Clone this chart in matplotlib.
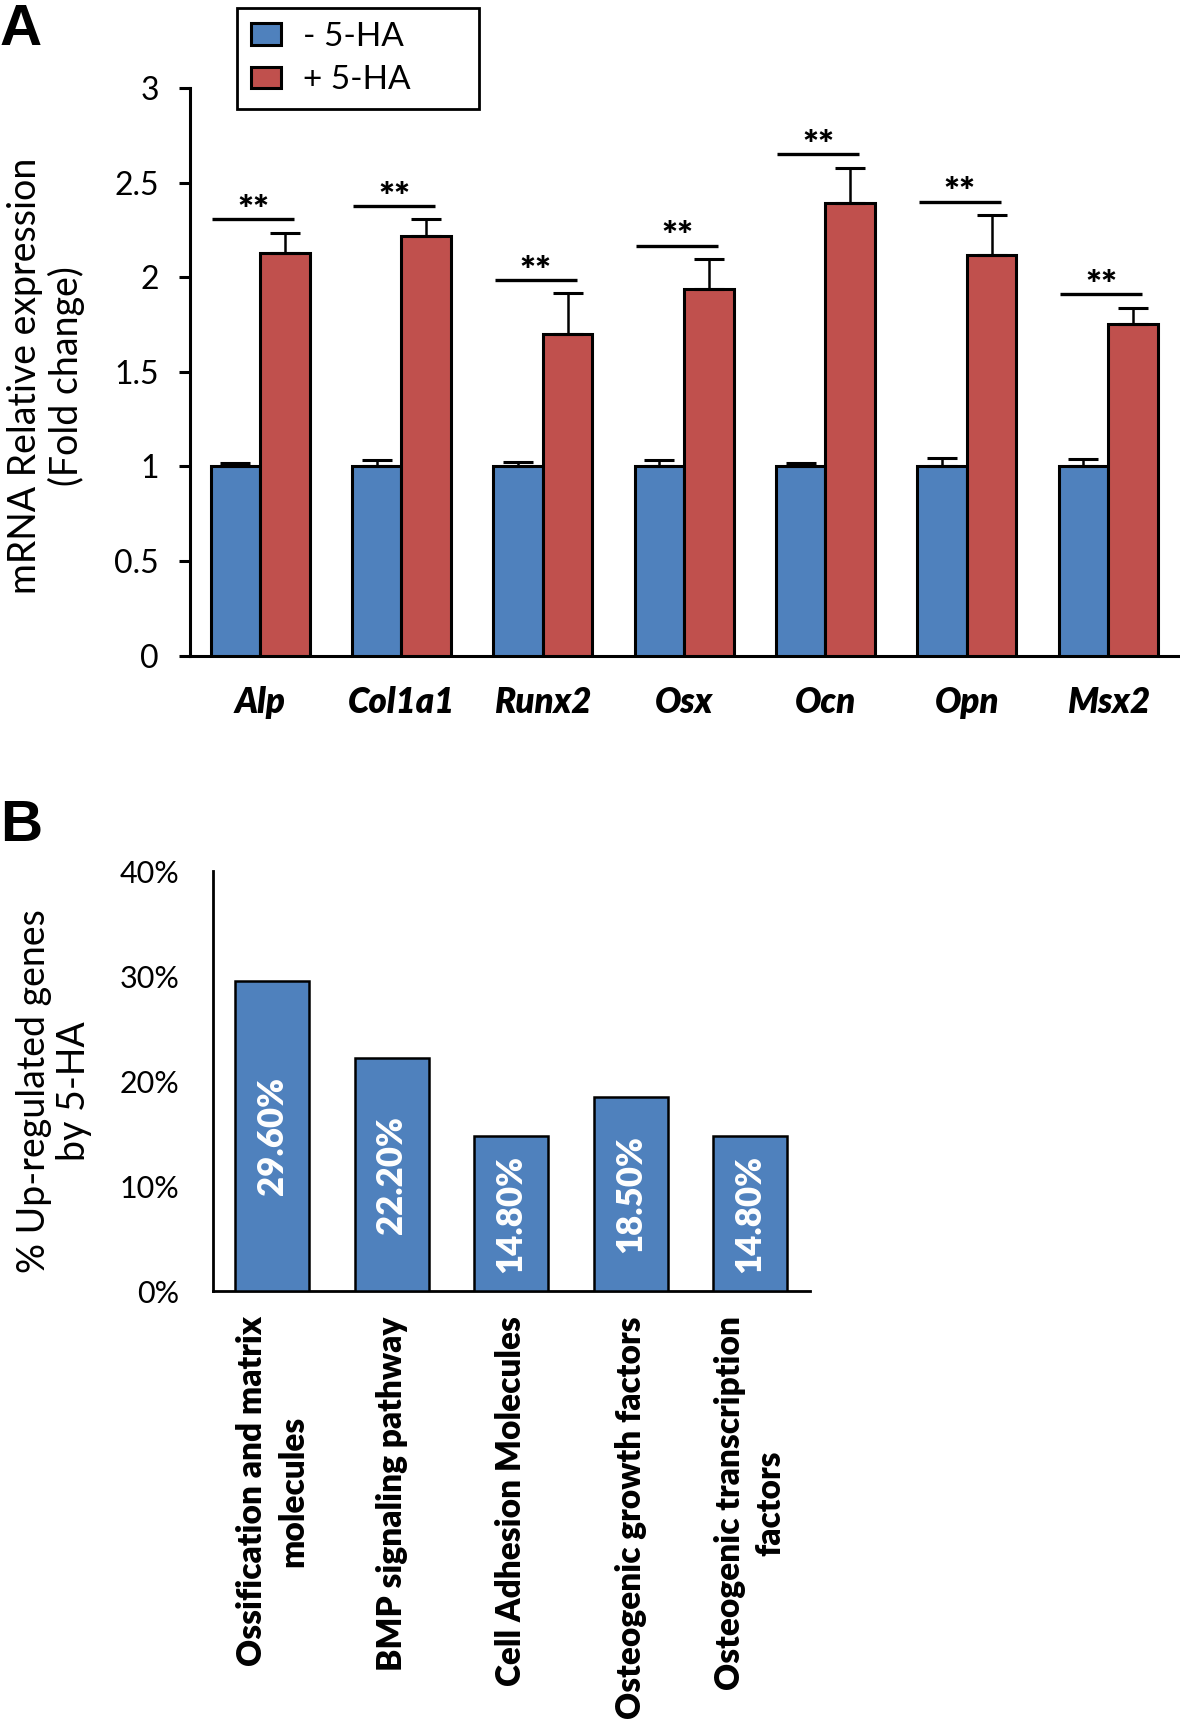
import numpy as np
import matplotlib
matplotlib.use('Agg')
import matplotlib.pyplot as plt

plt.rcParams['font.family'] = ['Lato', 'DejaVu Sans']

# Panel A: qPCR fold change
genes = ['Alp', 'Col1a1', 'Runx2', 'Osx', 'Ocn', 'Opn', 'Msx2']
ctrl_mean = [1.0, 1.0, 1.0, 1.0, 1.0, 1.0, 1.0]
ctrl_err = [0.02, 0.034, 0.025, 0.032, 0.018, 0.042, 0.039]
ha_mean = [2.126, 2.219, 1.70, 1.94, 2.394, 2.12, 1.753]
ha_err = [0.11, 0.087, 0.215, 0.157, 0.186, 0.21, 0.087]
sig = ['**', '**', '**', '**', '**', '**', '**']

# Panel B: share of up-regulated genes
categories = ['Ossification and matrix\nmolecules', 'BMP signaling pathway',
              'Cell Adhesion Molecules', 'Osteogenic growth factors',
              'Osteogenic transcription\nfactors']
pct = [29.6, 22.2, 14.8, 18.5, 14.8]

BLUE = '#4F81BD'
RED = '#C0504D'
W, H = 1180, 1727

fig = plt.figure(figsize=(W / 100, H / 100), dpi=100)

# ---- panel A ----
axA = fig.add_axes([189.5 / W, 1 - 655.6 / H, 0.999 - 189.5 / W, (655.6 - 88.1) / H])
x = np.arange(len(genes))
bw = 0.35
ek = dict(ecolor='black', elinewidth=1.8, capsize=11, capthick=2.2)
axA.bar(x - bw / 2, ctrl_mean, bw, color=BLUE, edgecolor='black', linewidth=2.2,
        yerr=[np.zeros(len(genes)), ctrl_err], error_kw=ek, label='- 5-HA', zorder=3)
axA.bar(x + bw / 2, ha_mean, bw, color=RED, edgecolor='black', linewidth=2.2,
        yerr=[np.zeros(len(genes)), ha_err], error_kw=ek, label='+ 5-HA', zorder=3)

for i, s in enumerate(sig):
    h = ha_mean[i] + ha_err[i] + 0.07
    axA.plot([x[i] - 0.34, x[i] + 0.24], [h, h], color='black', lw=2.4, solid_capstyle='butt')
    axA.text(x[i] - 0.05, h + 0.045, s, ha='center', va='center', fontsize=27, fontweight='heavy')

axA.set_xlim(-0.5, len(genes) - 0.5)
axA.set_ylim(0, 3)
axA.set_yticks([0, 0.5, 1, 1.5, 2, 2.5, 3])
axA.set_yticklabels(['0', '0.5', '1', '1.5', '2', '2.5', '3'])
axA.set_xticks(x)
axA.set_xticklabels(genes, fontweight='heavy', fontstyle='italic', fontsize=25)
axA.tick_params(axis='y', labelsize=23, length=8, width=2.2, pad=14)
axA.tick_params(axis='x', length=0, pad=22)
for sp in ['top', 'right']:
    axA.spines[sp].set_visible(False)
for sp in ['left', 'bottom']:
    axA.spines[sp].set_linewidth(2.2)

leg = axA.legend(loc='upper left', bbox_to_anchor=(237 / W, 1 - 107 / H, 242 / W, 99 / H),
                 bbox_transform=fig.transFigure, mode='expand', fontsize=24, frameon=True,
                 fancybox=False, edgecolor='black', framealpha=1,
                 handlelength=0.9, handleheight=0.62, handletextpad=0.65,
                 labelspacing=0.4, borderpad=0.42, borderaxespad=0)
leg.get_frame().set_linewidth(2)

fig.text(46 / W, 1 - 376 / H, 'mRNA Relative expression\n(Fold change)', rotation=90,
         ha='center', va='center', multialignment='center', fontsize=27, linespacing=1.18)
fig.text(0, 1 - 3 / H, 'A', ha='left', va='top', fontsize=42, fontweight='bold',
         family='Liberation Sans')

# ---- panel B ----
axB = fig.add_axes([212.6 / W, 1 - 1291.3 / H, (809.8 - 212.6) / W, (1291.3 - 871.5) / H])
xb = np.arange(len(categories))
axB.bar(xb, pct, 0.62, color=BLUE, edgecolor='black', linewidth=1.8, zorder=3)
for i, v in enumerate(pct):
    axB.text(xb[i], v / 2, f'{v:.2f}%', rotation=90, ha='center', va='center',
             color='white', fontsize=25, fontweight='heavy', zorder=4)

axB.set_xlim(-0.5, len(categories) - 0.5)
axB.set_ylim(0, 40)
axB.set_yticks([0, 10, 20, 30, 40])
axB.set_yticklabels(['0%', '10%', '20%', '30%', '40%'])
axB.set_xticks(xb)
axB.set_xticklabels(categories, rotation=90, fontweight='heavy', fontsize=24,
                    ha='center', va='top', multialignment='center', linespacing=1.35)
axB.tick_params(axis='y', labelsize=22, length=0, pad=24)
axB.tick_params(axis='x', length=0, pad=18)
for sp in ['top', 'right']:
    axB.spines[sp].set_visible(False)
for sp in ['left', 'bottom']:
    axB.spines[sp].set_linewidth(2)

fig.text(54 / W, 1 - 1091 / H, '% Up-regulated genes\nby 5-HA', rotation=90,
         ha='center', va='center', multialignment='center', fontsize=27, linespacing=1.15)
fig.text(0, 1 - 799 / H, 'B', ha='left', va='top', fontsize=42, fontweight='bold',
         family='Liberation Sans')

fig.savefig('out.png', dpi=100)
